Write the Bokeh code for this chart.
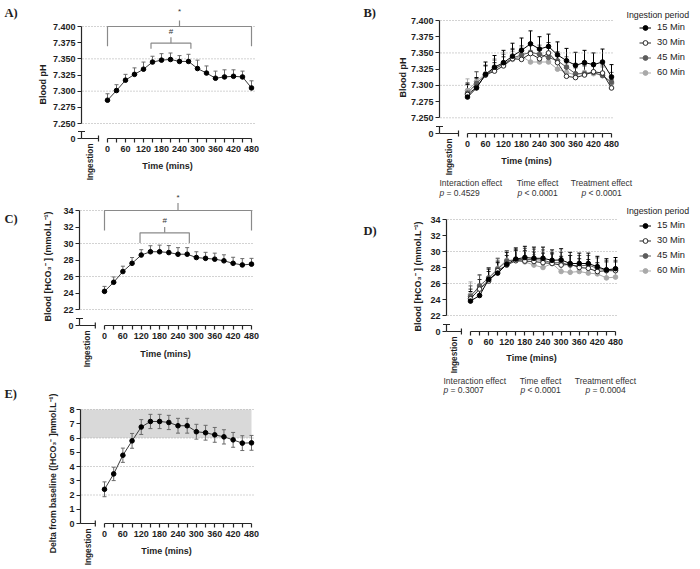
import math
from bokeh.plotting import figure
from bokeh.models import (Range1d, FixedTicker, Label, Legend, LegendItem, Whisker,
                          ColumnDataSource, NumeralTickFormatter, TeeHead)
from bokeh.layouts import row, column
from bokeh.embed import file_html
from bokeh.resources import INLINE

# ---------------- data ----------------
time_min = [0, 30, 60, 90, 120, 150, 180, 210, 240, 270, 300, 330, 360, 390, 420, 450, 480]
time_labels = [0, 60, 120, 180, 240, 300, 360, 420, 480]
ingestion_end = -30

ph_ticks = [7.250, 7.275, 7.300, 7.325, 7.350, 7.375, 7.400]
ph_grid = [7.250, 7.300, 7.350, 7.400]
hco3_ticks = [22, 24, 26, 28, 30, 32, 34]
hco3_grid = [22, 26, 30, 34]
delta_ticks = [0, 1, 2, 3, 4, 5, 6, 7, 8]
delta_grid = [2, 4, 6, 8]
delta_band = [6, 8]

# Panel A: blood pH (all ingestion periods)
ph_mean = [7.286, 7.301, 7.317, 7.326, 7.334, 7.345, 7.348, 7.349, 7.346, 7.346,
           7.335, 7.328, 7.320, 7.322, 7.323, 7.322, 7.305]
ph_sem = [0.010, 0.009, 0.009, 0.010, 0.011, 0.009, 0.010, 0.010, 0.009, 0.011,
          0.013, 0.011, 0.011, 0.011, 0.010, 0.009, 0.011]

# Panel B: blood pH per ingestion period
periods = ["15 Min", "30 Min", "45 Min", "60 Min"]
ph_15 = [7.282, 7.296, 7.317, 7.328, 7.335, 7.345, 7.354, 7.364, 7.356, 7.360,
         7.347, 7.338, 7.331, 7.335, 7.332, 7.336, 7.313]
ph_30 = [7.286, 7.297, 7.316, 7.322, 7.330, 7.341, 7.340, 7.349, 7.341, 7.350,
         7.335, 7.314, 7.312, 7.316, 7.321, 7.319, 7.296]
ph_45 = [7.288, 7.303, 7.316, 7.325, 7.333, 7.342, 7.347, 7.351, 7.348, 7.343,
         7.338, 7.328, 7.318, 7.318, 7.320, 7.315, 7.305]
ph_60 = [7.292, 7.306, 7.318, 7.326, 7.333, 7.340, 7.345, 7.336, 7.336, 7.336,
         7.325, 7.320, 7.316, 7.320, 7.318, 7.316, 7.303]
ph_err_15 = [0.020, 0.016, 0.019, 0.018, 0.019, 0.020, 0.019, 0.020, 0.019, 0.019,
             0.020, 0.019, 0.020, 0.019, 0.018, 0.020, 0.019]
ph_err_30 = [0.015, 0.014, 0.014, 0.013, 0.014, 0.014, 0.016, 0.016, 0.015, 0.016,
             0.015, 0.016, 0.015, 0.014, 0.013, 0.014, 0.013]
ph_err_45 = [0.016, 0.018, 0.015, 0.014, 0.015, 0.015, 0.014, 0.015, 0.014, 0.015,
             0.014, 0.016, 0.015, 0.014, 0.014, 0.015, 0.015]
ph_err_60 = [0.018, 0.015, 0.013, 0.015, 0.018, 0.012, 0.014, 0.014, 0.013, 0.013,
             0.012, 0.013, 0.012, 0.012, 0.011, 0.012, 0.012]

# Panel C: blood bicarbonate (all)
hco3_mean = [24.2, 25.3, 26.6, 27.6, 28.6, 29.0, 29.0, 28.9, 28.7, 28.7,
             28.3, 28.2, 28.1, 27.9, 27.6, 27.4, 27.5]
hco3_sem = [0.60, 0.65, 0.65, 0.70, 0.65, 0.73, 0.80, 0.85, 0.80, 0.80,
            0.70, 0.73, 0.73, 0.73, 0.73, 0.77, 0.70]

# Panel D: blood bicarbonate per ingestion period
hco3_15 = [23.8, 24.5, 26.5, 27.3, 28.4, 29.05, 29.25, 29.15, 29.15, 28.9,
           28.95, 28.5, 28.5, 28.5, 28.1, 27.7, 27.85]
hco3_30 = [24.1, 25.3, 26.3, 27.6, 28.3, 28.85, 28.8, 28.75, 28.6, 28.5,
           28.3, 28.4, 28.0, 27.9, 27.5, 27.6, 27.6]
hco3_45 = [24.4, 25.7, 26.7, 27.8, 28.8, 29.0, 29.0, 29.0, 28.9, 28.6,
           28.6, 28.3, 28.2, 28.3, 27.9, 27.7, 27.7]
hco3_60 = [24.6, 25.4, 26.5, 27.9, 28.9, 28.9, 28.7, 28.3, 28.0, 28.5,
           27.5, 27.4, 27.5, 27.3, 27.2, 26.7, 26.8]
hco3_err_15 = [1.2, 1.3, 1.3, 1.3, 1.5, 1.4, 1.4, 1.4, 1.4, 1.3, 1.4, 1.4, 1.3, 1.3, 1.3, 1.4, 1.4]
hco3_err_30 = [1.2, 1.2, 1.2, 1.2, 1.2, 1.3, 1.3, 1.2, 1.2, 1.2, 1.1, 1.1, 1.1, 1.1, 1.1, 1.1, 1.1]
hco3_err_45 = [1.3, 1.4, 1.3, 1.3, 1.3, 1.3, 1.4, 1.3, 1.3, 1.3, 1.3, 1.2, 1.3, 1.2, 1.3, 1.2, 1.2]
hco3_err_60 = [1.6, 1.6, 1.4, 1.3, 1.2, 1.3, 1.3, 1.3, 1.3, 1.3, 1.2, 1.2, 1.2, 1.2, 1.2, 1.1, 1.1]

# Panel E: delta from baseline
delta_mean = [2.40, 3.48, 4.79, 5.80, 6.77, 7.16, 7.16, 7.09, 6.86, 6.86,
              6.44, 6.37, 6.22, 6.08, 5.87, 5.64, 5.66]
delta_sem = [0.52, 0.47, 0.50, 0.52, 0.52, 0.50, 0.50, 0.50, 0.52, 0.52,
             0.52, 0.52, 0.52, 0.50, 0.52, 0.52, 0.52]

# significance brackets: (x from, x to, bar level, leg end, tip, symbol level, symbol)
brackets_A = [(0, 480, 7.400, 7.3695, 7.4093, 7.4237, "*"),
              (145, 278, 7.3742, 7.3655, 7.3835, 7.3927, "#")]
brackets_C = [(0, 480, 34.0, 31.58, 34.9, 35.6, "*"),
              (116, 277, 31.3, 30.06, 32.0, 32.8, "#")]

stats_B = [("Interaction effect", "= 0.4529"), ("Time effect", "< 0.0001"),
           ("Treatment effect", "< 0.0001")]
stats_D = [("Interaction effect", "= 0.3007"), ("Time effect", "< 0.0001"),
           ("Treatment effect", "= 0.0004")]

# ---------------- style ----------------
SANS = "Liberation Sans"
SERIF = "Liberation Serif"
AX = "#262626"
TXT = "#1e1e1e"
ERR = "#6a6a6a"
period_fill = ["#000000", "#ffffff", "#5c5c5c", "#a9a9a9"]
period_line = ["#000000", "#2a2a2a", "#5c5c5c", "#a9a9a9"]
ylab_hco3 = "Blood [HCO\u2083\u207b ] (mmol.L\u207b\u00b9)"
ylab_delta = "Delta from baseline ([HCO\u2083\u207b ]mmol.L\u207b\u00b9)"


def put(p, text, x, y, size="9px", style="bold", font=SANS, angle=0.0,
        align="left", baseline="middle", color=TXT):
    p.add_layout(Label(x=x, y=y, x_units="data", y_units="data", text=text, text_font=font,
                       text_font_size=size, text_font_style=style, angle=angle,
                       text_align=align, text_baseline=baseline, text_color=color))


class Panel:
    """One panel: figure whose frame fills the whole box; axes drawn at fixed locations."""

    def __init__(self, box, px0, px480, lo, py_lo, hi, py_hi, axis_px, xaxis_py,
                 ticks, fmt, grid, broken=True):
        L, T, W, H = box
        self.L, self.T = L, T
        self.px0 = px0
        self.ppm = (px480 - px0) / (time_min[-1] - time_min[0])
        self.lo, self.py_lo = lo, py_lo
        self.ppu = (py_lo - py_hi) / (hi - lo)
        X, Y = self.X, self.Y
        p = figure(width=W, height=H, x_range=Range1d(X(L), X(L + W)),
                   y_range=Range1d(Y(T + H), Y(T)), output_backend="svg",
                   toolbar_location=None, min_border_left=0, min_border_right=0,
                   min_border_top=0, min_border_bottom=0)
        p.title.visible = False
        p.outline_line_color = None
        p.xgrid.visible = False
        p.ygrid.visible = False
        self.p = p
        self.axis_px, self.xaxis_py = axis_px, xaxis_py

        # dotted reference lines
        gx0 = X(axis_px + 1)
        gx1 = X(px480 + 3)
        p.segment(x0=[gx0] * len(grid), x1=[gx1] * len(grid), y0=grid, y1=grid,
                  line_color="#a6a6a6", line_dash="1 2", line_width=1)

        xa = p.xaxis[0]
        xa.fixed_location = Y(xaxis_py)
        xa.bounds = (time_min[0], time_min[-1])
        xa.ticker = FixedTicker(ticks=time_labels,
                                minor_ticks=[t for t in time_min if t not in time_labels])
        ya = p.yaxis[0]
        ya.fixed_location = X(axis_px)
        ya.bounds = (lo, hi)
        ya.ticker = FixedTicker(ticks=ticks)
        ya.formatter = NumeralTickFormatter(format=fmt)
        for a in (xa, ya):
            a.axis_line_color = AX
            a.axis_line_width = 1.2
            a.major_tick_line_color = AX
            a.minor_tick_line_color = AX
            a.major_tick_line_width = 1.2
            a.minor_tick_line_width = 1.2
            a.major_tick_in = 0
            a.minor_tick_in = 0
            a.major_tick_out = 4
            a.minor_tick_out = 4
            a.major_label_text_font = SANS
            a.major_label_text_font_size = "9px"
            a.major_label_text_font_style = "bold"
            a.major_label_text_color = TXT
        xa.major_label_standoff = 3
        ya.major_label_standoff = 2

        # broken-axis pieces (ingestion stub on x, zero stub on y)
        yb = Y(xaxis_py)
        sx0 = [X(axis_px), ingestion_end]
        sy0 = [yb, Y(xaxis_py + 3)]
        sx1 = [ingestion_end, ingestion_end]
        sy1 = [yb, Y(xaxis_py - 3)]
        if broken:
            cap = Y(xaxis_py - 7)
            sx0 += [X(axis_px), X(axis_px - 3.5), X(axis_px - 4)]
            sy0 += [yb, cap, yb]
            sx1 += [X(axis_px), X(axis_px + 3.5), X(axis_px)]
            sy1 += [cap, cap, yb]
            put(p, "0", X(axis_px - 6), yb, align="right")
        p.segment(x0=sx0, y0=sy0, x1=sx1, y1=sy1, line_color=AX, line_width=1.2)
        self.ingest_x = (X(axis_px) + ingestion_end) / 2

    def X(self, px):
        return (px - self.px0) / self.ppm

    def Y(self, py):
        return self.lo + (self.py_lo - py) / self.ppu

    def text(self, t, px, py, **kw):
        put(self.p, t, self.X(px), self.Y(py), **kw)

    def decorate(self, letter, lpx, lpy, ylabel, ylx, yly, tx, ty, ylab_size="9px"):
        self.text(letter, lpx, lpy, size="12.5px", font=SERIF)
        self.text(ylabel, ylx, yly, angle=math.pi / 2, align="center", size=ylab_size)
        self.text("Time (mins)", tx, ty, align="center")
        put(self.p, "Ingestion", self.ingest_x, self.Y(self.xaxis_py + 5), size="8.3px",
            angle=math.pi / 2, align="right")

    def single_series(self, mean, err, symmetric=False):
        p = self.p
        up = [m + e for m, e in zip(mean, err)]
        low = [m - e for m, e in zip(mean, err)] if symmetric else list(mean)
        src = ColumnDataSource(dict(x=time_min, y=mean, up=up, low=low))
        w = Whisker(source=src, base="x", upper="up", lower="low", line_color=ERR,
                    line_width=1, upper_head=TeeHead(size=4, line_color=ERR, line_width=1),
                    lower_head=TeeHead(size=4, line_color=ERR, line_width=1) if symmetric else None)
        p.add_layout(w)
        p.line("x", "y", source=src, line_color="#3a3a3a", line_width=1)
        p.scatter("x", "y", source=src, size=4.6, fill_color="black", line_color="black")

    def brackets(self, specs):
        p = self.p
        for (xa, xb, y, drop, tip, ty, sym) in specs:
            xm = (xa + xb) / 2
            p.multi_line(xs=[[xa, xa, xb, xb], [xm, xm]], ys=[[drop, y, y, drop], [y, tip]],
                         line_color="#8a8a8a", line_width=1.2)
            put(p, sym, xm, ty, size="8px", style="normal", align="center", color="#333333")

    def multi_series(self, means, errs, title_px, title_py, glyph_px, bottom_py):
        p = self.p
        rends = {}
        for i in reversed(range(len(periods))):
            up = [m + e for m, e in zip(means[i], errs[i])]
            src = ColumnDataSource(dict(x=time_min, y=means[i], up=up))
            w = Whisker(source=src, base="x", upper="up", lower="y", line_color=period_line[i],
                        line_width=1,
                        upper_head=TeeHead(size=4, line_color=period_line[i], line_width=1),
                        lower_head=None)
            p.add_layout(w)
            lr = p.line("x", "y", source=src, line_color=period_line[i], line_width=1)
            sr = p.scatter("x", "y", source=src, size=4.6, fill_color=period_fill[i],
                           line_color=period_line[i], line_width=1)
            rends[i] = [lr, sr]
        items = [LegendItem(label=periods[i], renderers=rends[i]) for i in range(len(periods))]
        vx = glyph_px - self.L
        vy = (self.T + p.height) - bottom_py
        leg = Legend(items=items, location=(vx, vy),
                     label_text_font=SANS, label_text_font_size="9.3px", label_text_color="#222222",
                     glyph_width=12, glyph_height=13, label_height=13, label_standoff=6, spacing=2,
                     padding=0, margin=0, border_line_color=None, background_fill_alpha=0)
        p.add_layout(leg)
        self.text("Ingestion period", title_px, title_py, size="8.8px", style="normal",
                  color="#222222")

    def stats(self, entries, left_px, centers_px, head_py, p_py):
        for k, (head, rest) in enumerate(entries):
            if k == 0:
                self.text(head, left_px, head_py, size="8.5px", style="normal", color="#333333")
                pl = left_px
            else:
                c = centers_px[k - 1]
                self.text(head, c, head_py, size="8.5px", style="normal", align="center",
                          color="#333333")
                pl = c - 20
            self.text("p", pl, p_py, size="8.5px", style="italic", color="#333333")
            self.text(rest, pl + 7, p_py, size="8.5px", style="normal", color="#333333")


# ---------------- panel A ----------------
A = Panel((0, 0, 350, 186), 107, 251, 7.25, 123, 7.40, 26, 81, 138, ph_ticks, "0.000", ph_grid)
A.brackets(brackets_A)
A.single_series(ph_mean, ph_sem)
A.decorate("A)", 4, 12, "Blood pH", 42, 84, 167, 165)

# ---------------- panel B ----------------
B = Panel((350, 0, 350, 204), 467, 611, 7.25, 117.3, 7.40, 20, 439, 133, ph_ticks, "0.000", ph_grid)
B.multi_series([ph_15, ph_30, ph_45, ph_60], [ph_err_15, ph_err_30, ph_err_45, ph_err_60],
               626, 14, 639, 78.8)
B.decorate("B)", 363, 12, "Blood pH", 402, 77, 526, 160)
B.stats(stats_B, 439, [537, 601], 182, 192)

# ---------------- panel C ----------------
C = Panel((0, 186, 350, 189), 104, 251, 22, 309, 34, 210, 79, 325, hco3_ticks, "0", hco3_grid)
C.brackets(brackets_C)
C.single_series(hco3_mean, hco3_sem)
C.decorate("C)", 4, 218, ylab_hco3, 47, 266, 165, 353)

# ---------------- panel D ----------------
D = Panel((350, 204, 350, 197), 470, 615, 22, 315, 34, 219, 446, 331, hco3_ticks, "0", hco3_grid)
D.multi_series([hco3_15, hco3_30, hco3_45, hco3_60],
               [hco3_err_15, hco3_err_30, hco3_err_45, hco3_err_60], 626, 210, 639, 276.5)
D.decorate("D)", 363, 230, ylab_hco3, 417, 276, 531, 357)
D.stats(stats_D, 443, [540, 605], 380, 389)

# ---------------- panel E ----------------
E = Panel((0, 375, 350, 193), 104, 251, 0, 523, 8, 409, 80, 523, delta_ticks, "0", delta_grid,
          broken=False)
E.p.quad(left=[E.X(E.axis_px)], right=[time_min[-1]], bottom=[delta_band[0]], top=[delta_band[1]],
         fill_color="#d9d9d9", line_color=None, level="image")
E.single_series(delta_mean, delta_sem, symmetric=True)
E.decorate("E)", 4, 393, ylab_delta, 52, 473, 166, 550, ylab_size="8.7px")

layout = row(column(A.p, C.p, E.p), column(B.p, D.p))
open("out.html", "w").write(file_html(layout, INLINE))
